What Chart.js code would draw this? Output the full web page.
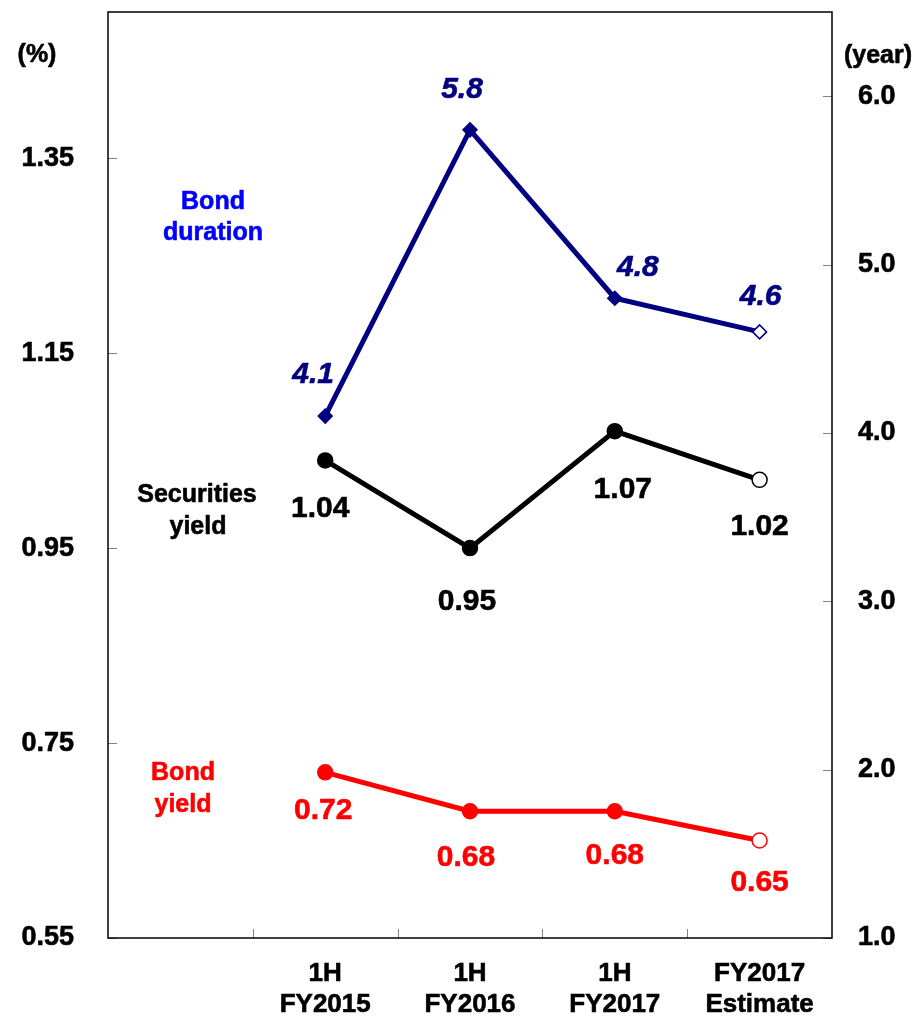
<!DOCTYPE html>
<html>
<head>
<meta charset="utf-8">
<script src="https://cdn.jsdelivr.net/npm/chart.js@4.4.1/dist/chart.umd.min.js"></script>
<style>
  html, body { margin: 0; padding: 0; background: #fff; }
  #wrap { width: 917px; height: 1016px; position: relative; }
</style>
</head>
<body>
<div id="wrap"><canvas id="c" width="917" height="1016"></canvas></div>
<script>
// Periods (first slot is left blank on the axis)
const categories = ['', ['1H', 'FY2015'], ['1H', 'FY2016'], ['1H', 'FY2017'], ['FY2017', 'Estimate']];

// Bond duration in years (right axis)
const bondDuration = [null, 4.1, 5.8, 4.8, 4.6];
// Securities yield in % (left axis)
const securitiesYield = [null, 1.04, 0.95, 1.07, 1.02];
// Bond yield in % (left axis)
const bondYield = [null, 0.72, 0.68, 0.68, 0.65];

// Axis tick labels
const leftTicks = [0.55, 0.75, 0.95, 1.15, 1.35];
const rightTicks = [1.0, 2.0, 3.0, 4.0, 5.0, 6.0];

const FONT = '"Liberation Sans", Arial, sans-serif';
const NAVY = '#000080';
const RED = '#FF0000';
const STROKE = 0.6; // slight outline to thicken the bold text

// last point of each series is an estimate: hollow marker
const fills = (c) => [c, c, c, c, '#FFFFFF'];

// Label offsets (px) from each point, per series
const labelStyle = {
  duration: { color: NAVY, italic: true, off: [null, [-12, -41], [-8, -40], [23, -30], [1, -35]], fmt: v => v.toFixed(1) },
  securities: { color: '#000', italic: false, off: [null, [-5, 48], [-3, 54], [8, 59], [0, 47]], fmt: v => v.toFixed(2) },
  bond: { color: RED, italic: false, off: [null, [-2, 38], [-4, 46], [0, 44], [0, 42]], fmt: v => v.toFixed(2) }
};

function text(ctx, s, x, y) {
  ctx.fillText(s, x, y);
  ctx.strokeText(s, x, y);
}

const frameAndLabels = {
  id: 'frameAndLabels',
  afterDraw(chart) {
    const ctx = chart.ctx;
    const a = chart.chartArea;
    const x = chart.scales.x, yl = chart.scales.yL, yr = chart.scales.yR;
    ctx.save();
    // inward tick marks
    ctx.strokeStyle = '#808080';
    ctx.lineWidth = 1;
    ctx.beginPath();
    leftTicks.forEach(v => {
      const py = Math.round(yl.getPixelForValue(v)) + 0.5;
      ctx.moveTo(a.left, py); ctx.lineTo(a.left + 9, py);
    });
    rightTicks.forEach(v => {
      const py = Math.round(yr.getPixelForValue(v)) + 0.5;
      ctx.moveTo(a.right, py); ctx.lineTo(a.right - 9, py);
    });
    for (let i = 1; i < categories.length; i++) {
      const px = Math.round((x.getPixelForValue(i - 1) + x.getPixelForValue(i)) / 2) + 0.5;
      ctx.moveTo(px, a.bottom); ctx.lineTo(px, a.bottom - 9);
    }
    ctx.stroke();
    // plot frame
    ctx.strokeStyle = '#000';
    ctx.lineWidth = 1.5;
    ctx.strokeRect(a.left, a.top, a.right - a.left, a.bottom - a.top);

    ctx.textAlign = 'center';
    ctx.textBaseline = 'middle';
    ctx.lineWidth = STROKE;
    ctx.lineJoin = 'round';

    // axis unit titles
    ctx.fillStyle = ctx.strokeStyle = '#000';
    ctx.font = 'bold 25px ' + FONT;
    text(ctx, '(%)', 37, 55);
    text(ctx, '(year)', 878, 56);

    // series names
    ctx.fillStyle = ctx.strokeStyle = '#0000FF';
    text(ctx, 'Bond', 213, 202);
    text(ctx, 'duration', 213, 233);
    ctx.fillStyle = ctx.strokeStyle = '#000';
    text(ctx, 'Securities', 197, 495);
    text(ctx, 'yield', 198, 527);
    ctx.fillStyle = ctx.strokeStyle = RED;
    text(ctx, 'Bond', 183, 773);
    text(ctx, 'yield', 183, 805);

    // value labels
    const sets = [['duration', yr, bondDuration], ['securities', yl, securitiesYield], ['bond', yl, bondYield]];
    sets.forEach(([key, sc, arr]) => {
      const st = labelStyle[key];
      ctx.fillStyle = ctx.strokeStyle = st.color;
      ctx.font = (st.italic ? 'italic ' : '') + 'bold 30px ' + FONT;
      arr.forEach((v, i) => {
        if (v === null) return;
        const px = x.getPixelForValue(i) + st.off[i][0];
        const py = sc.getPixelForValue(v) + st.off[i][1];
        text(ctx, st.fmt(v), px, py);
      });
    });
    ctx.restore();
  }
};

const tickFont = (size) => ({ family: FONT, size: size, weight: 'bold' });

new Chart(document.getElementById('c'), {
  type: 'line',
  data: {
    labels: categories,
    datasets: [
      {
        label: 'Bond duration', data: bondDuration, yAxisID: 'yR',
        borderColor: NAVY, borderWidth: 5, pointStyle: 'rectRot', pointRadius: 7,
        pointBorderWidth: 1.5, pointBorderColor: NAVY, pointBackgroundColor: fills(NAVY)
      },
      {
        label: 'Securities yield', data: securitiesYield, yAxisID: 'yL',
        borderColor: '#000', borderWidth: 5, pointStyle: 'circle', pointRadius: 7.5,
        pointBorderWidth: 1.5, pointBorderColor: '#000', pointBackgroundColor: fills('#000')
      },
      {
        label: 'Bond yield', data: bondYield, yAxisID: 'yL',
        borderColor: RED, borderWidth: 5, pointStyle: 'circle', pointRadius: 7.5,
        pointBorderWidth: 1.5, pointBorderColor: RED, pointBackgroundColor: fills(RED)
      }
    ]
  },
  options: {
    responsive: false,
    animation: false,
    layout: { padding: { top: 12, left: 0, right: 0, bottom: 0 } },
    plugins: { legend: { display: false }, tooltip: { enabled: false } },
    scales: {
      x: {
        offset: true,
        grid: { display: false },
        border: { display: false },
        ticks: { color: '#000', font: tickFont(26), padding: 12, maxRotation: 0, autoSkip: false,
                 textStrokeColor: '#000', textStrokeWidth: STROKE },
        afterFit(s) { s.height = 78; s.paddingLeft = 0; s.paddingRight = 0; }
      },
      yL: {
        position: 'left', min: 0.55, max: 1.5,
        grid: { display: false },
        border: { display: false },
        afterBuildTicks(s) { s.ticks = leftTicks.map(v => ({ value: v })); },
        ticks: { color: '#000', font: tickFont(27), padding: 26, callback: v => v.toFixed(2),
                 textStrokeColor: '#000', textStrokeWidth: STROKE },
        afterFit(s) { s.width = 108; s.paddingTop = 0; s.paddingBottom = 0; }
      },
      yR: {
        position: 'right', min: 1.0, max: 6.5,
        grid: { display: false },
        border: { display: false },
        afterBuildTicks(s) { s.ticks = rightTicks.map(v => ({ value: v })); },
        ticks: { color: '#000', font: tickFont(27), padding: 18, callback: v => v.toFixed(1),
                 textStrokeColor: '#000', textStrokeWidth: STROKE },
        afterFit(s) { s.width = 85; s.paddingTop = 0; s.paddingBottom = 0; }
      }
    }
  },
  plugins: [frameAndLabels]
});
</script>
</body>
</html>
